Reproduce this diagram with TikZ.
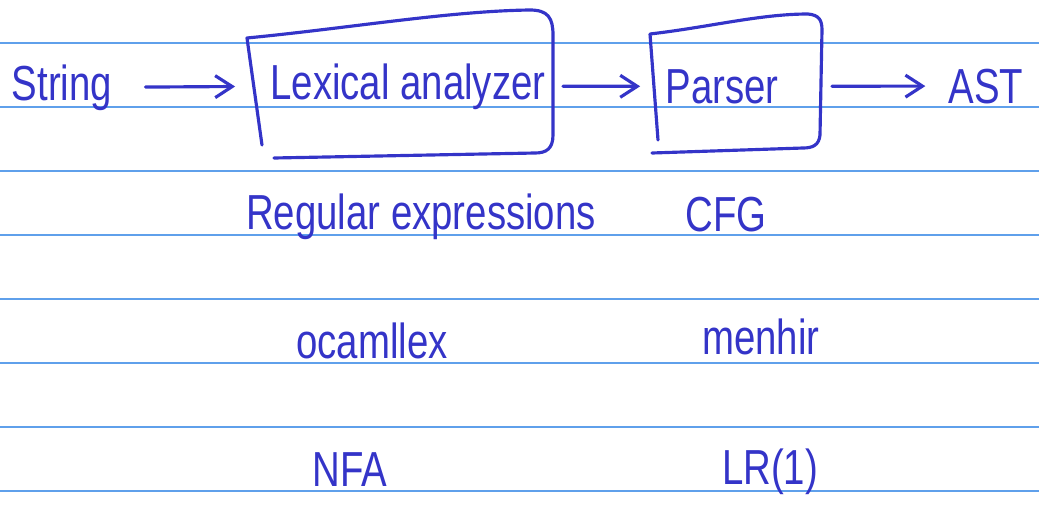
\documentclass[tikz,border=0pt]{standalone}
\usepackage{fontspec}
\setsansfont[FakeStretch=0.78]{Liberation Sans}
\usetikzlibrary{arrows.meta}
\definecolor{ink}{RGB}{52,52,200}
\definecolor{ruleblue}{RGB}{95,160,235}
\begin{document}
\begin{tikzpicture}[x=0.02cm, y=-0.02cm,
  pen/.style={draw=ink, line width=1.8pt, line cap=round, line join=round},
  note/.style={text=ink, font=\sffamily\fontsize{28}{32}\selectfont, inner sep=0pt, anchor=base},
  flow/.style={pen, -{Straight Barb[length=0.34cm, width=0.44cm]}}]
  % page: 1039 x 514 px, 1 px = 0.02 cm, y grows downwards
  \useasboundingbox (0,0) rectangle (1039,514);

  % Ruled paper
  \foreach \y in {43,107,...,491}
    \draw[ruleblue, line width=0.9pt] (0,\y) -- (1039,\y);

  % Pipeline
  \node[note] (str) at (62,100) {String};
  \node[note] (lex) at (408,99) {Lexical analyzer};
  \node[note] (parser) at (722,103) {Parser};
  \node[note] (ast) at (986,103) {AST};

  % Hand-drawn boxes
  \draw[pen] (262,145) -- (247,38) .. controls (350,28) and (450,11) .. (530,10)
    .. controls (548,10) and (553,18) .. (553,35) -- (553,135)
    .. controls (553,149) and (546,153) .. (535,153) -- (274,158);
  \draw[pen] (658,140) -- (650,34) .. controls (710,27) and (760,14) .. (808,14)
    .. controls (819,15) and (822,20) .. (822,30) -- (820,135)
    .. controls (819,145) and (813,148) .. (803,148) -- (652,153);

  % Arrows
  \draw[flow, shorten <=0.66cm, shorten >=0.7cm] (str.east) -- (lex.west);
  \draw[flow, shorten <=0.34cm, shorten >=0.5cm] (lex.east) -- (parser.west);
  \draw[flow, shorten <=1.06cm, shorten >=0.46cm] (parser.east) -- (ast.west);

  % Lexer column
  \node[note] (regex) at (421,229) {Regular expressions};
  \node[note] (ocamllex) at (372,358) {ocamllex};
  \node[note] (nfa) at (350,486) {NFA};

  % Parser column
  \node[note] (cfg) at (726,231) {CFG};
  \node[note] (menhir) at (761,354) {menhir};
  \node[note] (lr) at (770,484) {LR(1)};
\end{tikzpicture}
\end{document}
